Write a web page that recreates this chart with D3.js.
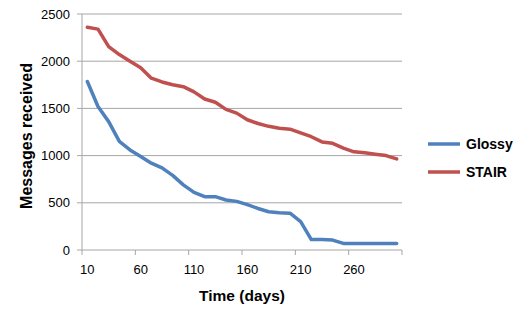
<!DOCTYPE html>
<html>
<head>
<meta charset="utf-8">
<script src="https://cdn.jsdelivr.net/npm/d3@7"></script>
<style>
  body { margin: 0; background: #fff; }
  svg { font-family: "Liberation Sans", Arial, sans-serif; }
</style>
</head>
<body>
<div id="chart"></div>
<script>
// chart data
const days = [10, 20, 30, 40, 50, 60, 70, 80, 90, 100, 110, 120, 130, 140, 150,
  160, 170, 180, 190, 200, 210, 220, 230, 240, 250, 260, 270, 280, 290, 300];
const glossy = [1785, 1520, 1360, 1150, 1060, 990, 920, 870, 790, 690, 610, 565, 565, 530, 515,
  480, 440, 405, 395, 390, 300, 110, 110, 105, 70, 70, 70, 70, 70, 70];
const stair = [2360, 2340, 2155, 2070, 2000, 1930, 1820, 1780, 1750, 1730, 1675, 1600, 1565, 1490, 1450,
  1380, 1340, 1310, 1290, 1280, 1240, 1200, 1145, 1130, 1080, 1040, 1030, 1015, 1000, 965];
const yTicks = [0, 500, 1000, 1500, 2000, 2500];
const xLabels = [10, 60, 110, 160, 210, 260];
const seriesNames = ["Glossy", "STAIR"];
const seriesColors = ["#4f81bd", "#c0504d"];

const width = 531, height = 317;
const margin = {top: 14, right: 129, bottom: 67, left: 82};
const w = width - margin.left - margin.right;
const h = height - margin.top - margin.bottom;

let svg = d3.select("#chart")
  .append("svg")
  .attr("width", width)
  .attr("height", height)
  .append("g")
  .attr("transform", `translate(${margin.left}, ${margin.top})`);

let x = d3.scaleBand()
  .domain(days)
  .range([0, w]);

let y = d3.scaleLinear()
  .domain([0, 2500])
  .range([h, 0]);

// gridlines
svg.selectAll(".grid")
  .data(yTicks)
  .enter()
  .append("line")
  .attr("x1", -5)
  .attr("x2", w)
  .attr("y1", d => y(d))
  .attr("y2", d => y(d))
  .attr("stroke", "#a6a6a6")
  .attr("stroke-width", 1);

svg.selectAll(".ylab")
  .data(yTicks)
  .enter()
  .append("text")
  .attr("x", -12)
  .attr("y", d => y(d))
  .attr("dy", "0.35em")
  .style("text-anchor", "end")
  .style("font-size", "13px")
  .attr("fill", "#000")
  .text(d => d);

// y axis line
svg.append("line")
  .attr("x1", 0).attr("x2", 0)
  .attr("y1", 0).attr("y2", h)
  .attr("stroke", "#a6a6a6");

// x axis ticks every 5 categories, between categories
let tickPos = d3.range(0, days.length + 1, 5).map(i => i * x.step());
svg.selectAll(".xtick")
  .data(tickPos)
  .enter()
  .append("line")
  .attr("x1", d => d).attr("x2", d => d)
  .attr("y1", h).attr("y2", h + 5)
  .attr("stroke", "#a6a6a6");

svg.selectAll(".xlab")
  .data(xLabels)
  .enter()
  .append("text")
  .attr("x", d => x(d) + x.bandwidth() / 2)
  .attr("y", h + 24)
  .style("text-anchor", "middle")
  .style("font-size", "13px")
  .text(d => d);

// lines
let line = d3.line()
  .x((d, i) => x(days[i]) + x.bandwidth() / 2)
  .y(d => y(d));

[glossy, stair].forEach((s, i) => {
  svg.append("path")
    .attr("d", line(s))
    .attr("fill", "none")
    .attr("stroke", seriesColors[i])
    .attr("stroke-width", 3.5)
    .attr("stroke-linejoin", "round")
    .attr("stroke-linecap", "round");
});

// axis titles
svg.append("text")
  .attr("transform", `translate(${-50}, ${122}) rotate(-90)`)
  .style("text-anchor", "middle")
  .style("font-size", "16px")
  .style("font-weight", "bold")
  .text("Messages received");

svg.append("text")
  .attr("x", w / 2)
  .attr("y", h + 51)
  .style("text-anchor", "middle")
  .style("font-size", "15.5px")
  .style("font-weight", "bold")
  .text("Time (days)");

// legend
let legend = svg.selectAll(".legend")
  .data(seriesNames)
  .enter()
  .append("g")
  .attr("transform", (d, i) => `translate(${w + 26}, ${130 + i * 28})`);

legend.append("line")
  .attr("x1", 0).attr("x2", 32)
  .attr("y1", 0).attr("y2", 0)
  .attr("stroke", (d, i) => seriesColors[i])
  .attr("stroke-width", 3.5);

legend.append("text")
  .attr("x", 38)
  .attr("dy", "0.35em")
  .style("font-size", "14px")
  .style("font-weight", "bold")
  .text(d => d);
</script>
</body>
</html>
